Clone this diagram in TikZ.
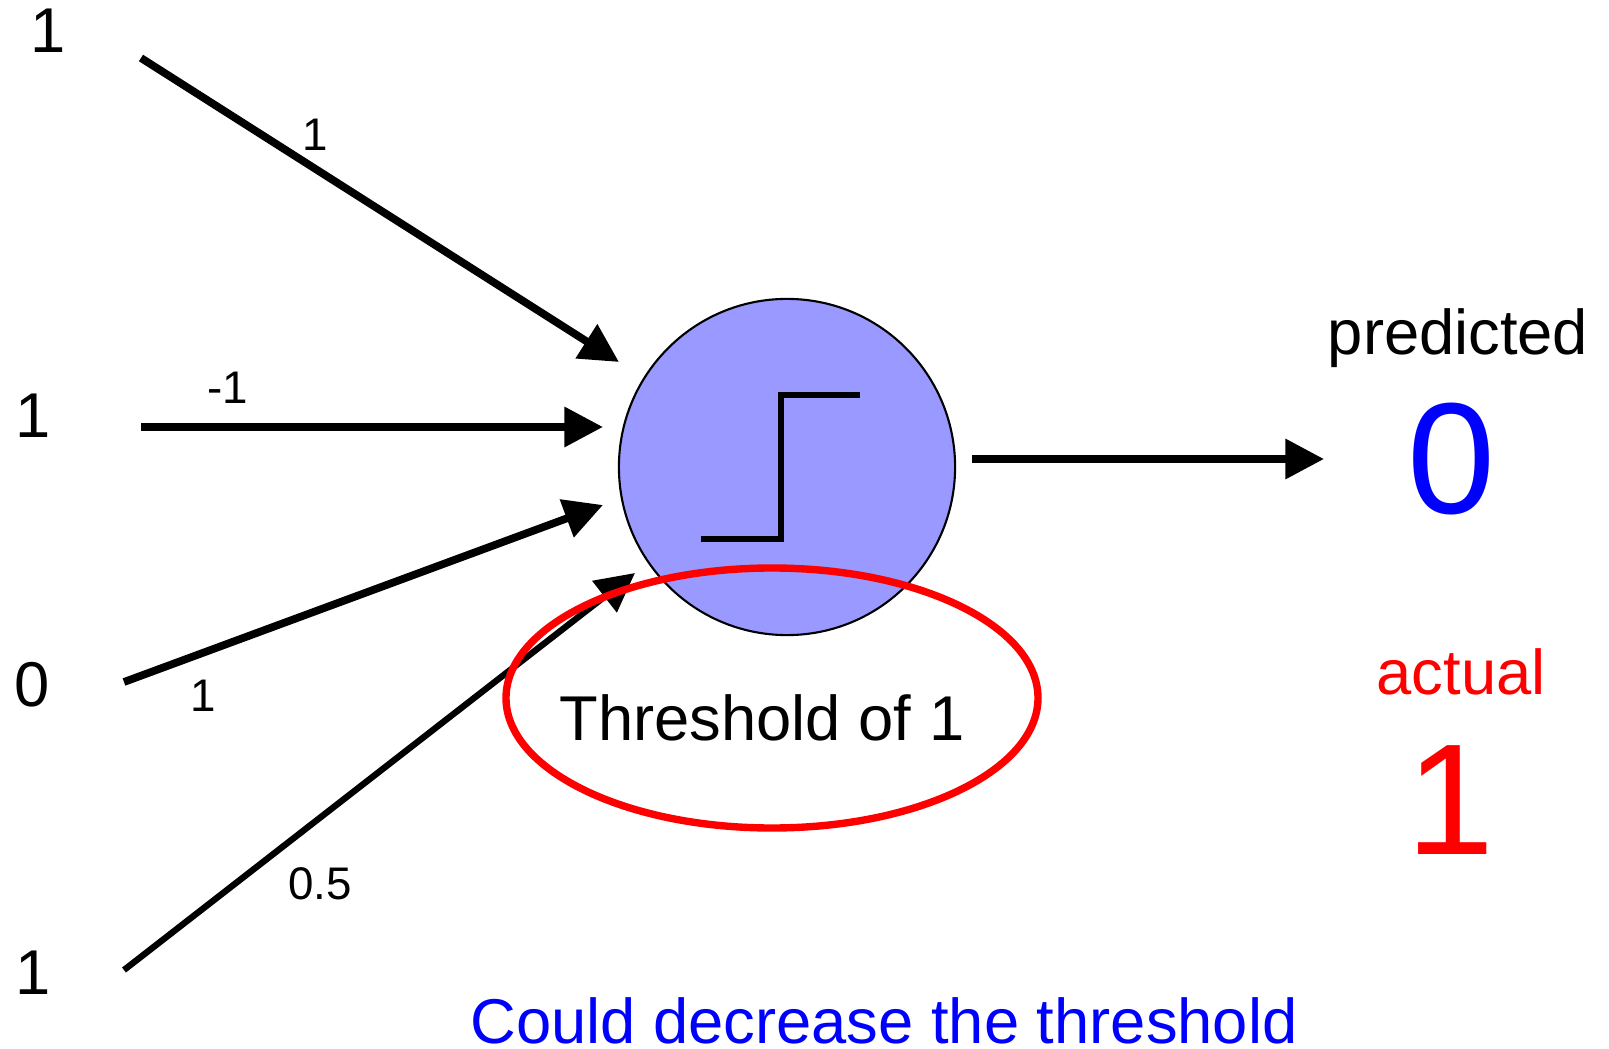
\documentclass[tikz,border=0pt]{standalone}
\usepackage{fontspec}
\setmainfont{Liberation Sans}
\usetikzlibrary{arrows.meta}
\definecolor{cellblue}{HTML}{9999FF}

\begin{document}
\begin{tikzpicture}[x=0.01cm,y=-0.01cm,
  wire/.style={line width=2.2pt,-{Triangle[length=11pt,width=11pt]}},
  val/.style={font=\fontsize{18}{21}\selectfont},
  wt/.style={font=\fontsize{13}{15}\selectfont},
  big/.style={font=\fontsize{45}{50}\selectfont}]
\useasboundingbox (0,0) rectangle (1609,1049);
% input values
\node[val] (x1) at (48,31) {1};
\node[val] (x2) at (33,416) {1};
\node[val] (x3) at (32,685) {0};
\node[val] (x4) at (33,973) {1};
% the unit with its step
\node[circle,draw,line width=0.6pt,fill=cellblue,minimum size=3.36cm,inner sep=0pt] (cell) at (787,467) {};
\draw[line width=1.6pt] (701,539) -- (781,539) -- (781,395) -- (860,395);
% arrow ends
\coordinate (s1) at (141,58);  \coordinate (e1) at (619,362);
\coordinate (s2) at (141,427); \coordinate (e2) at (603,427);
\coordinate (s3) at (124,682); \coordinate (e3) at (603,505);
\coordinate (s4) at (124,970); \coordinate (e4) at (635,573);
\coordinate (o1) at (972,459); \coordinate (o2) at (1324,459);
\draw[wire] (s1) -- (e1);
\draw[wire] (s2) -- (e2);
\draw[wire] (s3) -- (e3);
\draw[wire,line width=1.8pt] (s4) -- (e4);
\draw[wire] (o1) -- (o2);
% weights
\node[wt] (w1) at (315,135) {1};
\node[wt] (w2) at (228,388) {-1};
\node[wt] (w3) at (203,696) {1};
\node[wt] (w4) at (320,884) {0.5};
% threshold
\draw[red,line width=2.1pt] (772,698) ellipse [x radius=266,y radius=130];
\node[val] (thr) at (762,718) {Threshold of 1};
% output side
\node[val] (pred) at (1458,338) {predicted};
\node[big,text=blue] (yhat) at (1451,459) {0};
\node[val,text=red] (act) at (1461,672) {actual};
\node[big,text=red] (y) at (1450,800) {1};
\node[val,text=blue] (note) at (884,1021) {Could decrease the threshold};
\end{tikzpicture}
\end{document}
